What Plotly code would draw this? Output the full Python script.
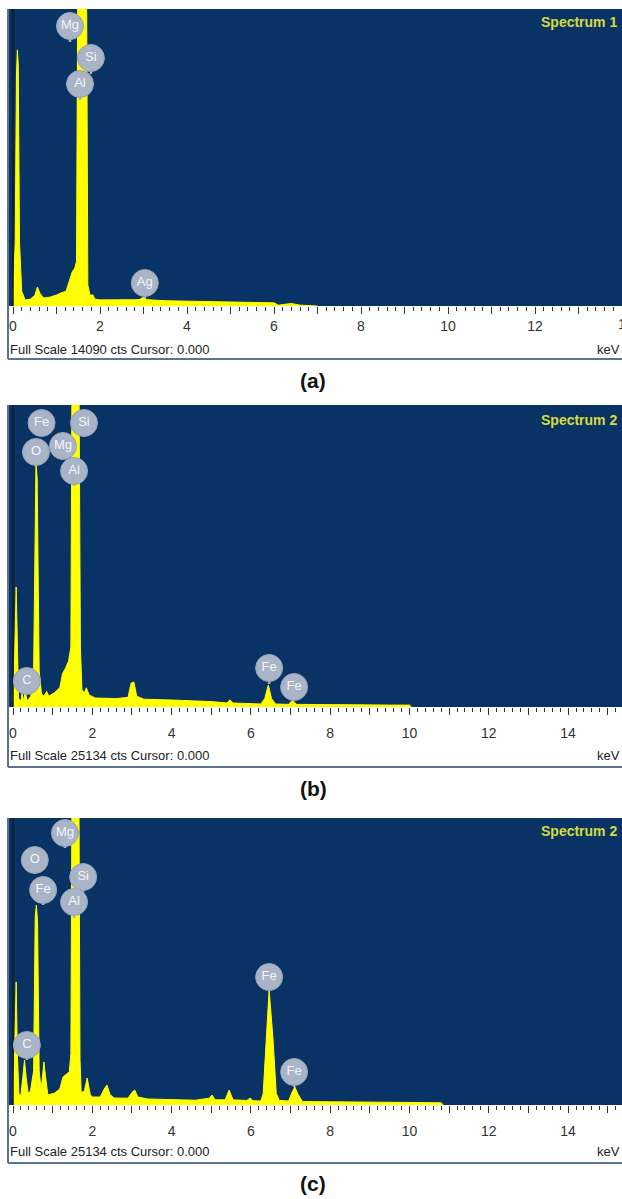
import plotly.graph_objects as go

W, H = 622, 1199
FONT = "Liberation Sans, Arial, sans-serif"
BG = "#0a3365"
YEL = "#ffff00"
BADGE = "#a9b4c6"
FRAME = "#5d7394"
TICK = "#333333"

# ---------------- data (keV, counts) ----------------
a_kev = [0.00, 0.05, 0.08, 0.10, 0.12, 0.15, 0.20, 0.28, 0.40, 0.50, 0.56, 0.62, 0.70, 0.85,
         1.00, 1.10, 1.22, 1.30, 1.36, 1.42, 1.46, 1.49, 1.69, 1.72, 1.77, 1.84, 1.88, 2.00,
         2.50, 2.90, 3.00, 3.08, 3.50, 4.00, 5.00, 6.00, 6.10, 6.40, 6.60, 7.00]
a_cts = [300, 3000, 11000, 12150, 11500, 3000, 700, 280, 330, 500, 900, 600, 380, 420,
         520, 620, 700, 1230, 1610, 1800, 2100, 16000, 16000, 1000, 520, 520, 330, 290,
         280, 300, 420, 300, 250, 220, 190, 150, 40, 120, 40, 0]

b_kev = [0.00, 0.04, 0.08, 0.11, 0.14, 0.20, 0.23, 0.26, 0.31, 0.36, 0.45, 0.52, 0.56, 0.58,
         0.61, 0.66, 0.72, 0.78, 0.85, 0.90, 1.05, 1.18, 1.25, 1.32, 1.40, 1.46, 1.49, 1.66,
         1.70, 1.74, 1.80, 1.85, 1.92, 2.07, 2.60, 2.90, 2.98, 3.05, 3.12, 3.30, 4.00, 5.00,
         5.40, 5.47, 5.55, 6.25, 6.35, 6.44, 6.52, 6.62, 6.95, 7.05, 7.15, 8.00, 9.50, 10.00,
         10.05]
b_cts = [500, 4000, 9990, 4000, 700, 500, 1200, 450, 1250, 500, 900, 3000, 19000, 20400,
         19000, 3000, 1100, 900, 1300, 900, 1200, 1600, 2800, 3200, 3800, 5000, 30000, 30000,
         5000, 1400, 1200, 1600, 1000, 750, 700, 800, 2000, 2080, 900, 650, 580, 450,
         330, 600, 330, 250, 700, 1830, 700, 250, 220, 580, 220, 180, 160, 160,
         0]

c_kev = [0.00, 0.04, 0.08, 0.11, 0.15, 0.20, 0.25, 0.29, 0.33, 0.38, 0.44, 0.52, 0.56, 0.59,
         0.62, 0.66, 0.71, 0.75, 0.78, 0.82, 0.88, 1.05, 1.18, 1.26, 1.35, 1.42, 1.46, 1.49,
         1.66, 1.69, 1.72, 1.80, 1.87, 1.95, 2.00, 2.20, 2.30, 2.37, 2.45, 2.55, 2.90, 3.00,
         3.07, 3.15, 3.40, 4.00, 4.60, 4.95, 5.02, 5.10, 5.35, 5.45, 5.55, 5.90, 5.98, 6.05,
         6.25, 6.31, 6.38, 6.46, 6.56, 6.64, 6.72, 6.95, 7.05, 7.11, 7.18, 7.30, 8.00, 9.00,
         10.00, 10.80, 10.85]
c_cts = [600, 4500, 10770, 4500, 900, 900, 2500, 3940, 2500, 1050, 1200, 3000, 16500, 17500,
         16000, 3000, 1300, 2500, 3770, 2500, 875, 1050, 1400, 2450, 2700, 2900, 4500, 30000,
         30000, 4000, 1100, 1200, 2360, 900, 700, 700, 1400, 1750, 900, 610, 600, 1100,
         1310, 700, 525, 480, 420, 600, 875, 450, 450, 1310, 450, 400, 610, 380,
         350, 1000, 5700, 10070, 5700, 1000, 400, 350, 1200, 1576, 1000, 300, 280, 250,
         230, 200, 0]

full_scale = [14090, 25134, 25134]
spectrum_names = ["Spectrum 1", "Spectrum 2", "Spectrum 2"]
captions = ["(a)", "(b)", "(c)"]

# element labels
a_el = ["Mg", "Si", "Al", "Ag"]
a_el_kev = [1.31, 1.79, 1.54, 3.03]
b_el = ["Fe", "O", "Mg", "Si", "Al", "C", "Fe", "Fe"]
b_el_kev = [0.72, 0.58, 1.26, 1.79, 1.54, 0.35, 6.46, 7.09]
c_el = ["Mg", "O", "Fe", "Si", "Al", "C", "Fe", "Fe"]
c_el_kev = [1.31, 0.55, 0.76, 1.77, 1.54, 0.35, 6.46, 7.09]

tick_vals = list(range(0, 16))
tick_text_a = [str(v) if (v % 2 == 0 and v < 14) else "" for v in tick_vals]
tick_text_bc = [str(v) if v % 2 == 0 else "" for v in tick_vals]

# ---------------- layout geometry ----------------
a_badge_y = [13283, 11765, 10532, 1091]
a_tip_y = [12524, 11006, 9773, 380]
b_badge_y = [23637, 21224, 21723, 23637, 19642, 2164, 3246, 1665]
b_tip_y = [22555, 20058, 20558, 22472, 18394, 999, 1914, 583]
c_badge_y = [23820, 21455, 18828, 19966, 17777, 5254, 11209, 2890]
c_tip_y = [22506, 20229, 17514, 18652, 16376, 3941, 9983, 1576]

panels = [
    dict(kev=a_kev, cts=a_cts, el=a_el, elx=a_el_kev, by=a_badge_y, ty=a_tip_y, tt=tick_text_a,
         top=9, bot=306, strip=359, fsy=349, capy=381, specy=22, xr=[-0.115, 14.0], so=0),
    dict(kev=b_kev, cts=b_cts, el=b_el, elx=b_el_kev, by=b_badge_y, ty=b_tip_y, tt=tick_text_bc,
         top=405, bot=707, strip=767, fsy=755, capy=788, specy=420, xr=[-0.126, 15.36], so=6),
    dict(kev=c_kev, cts=c_cts, el=c_el, elx=c_el_kev, by=c_badge_y, ty=c_tip_y, tt=tick_text_bc,
         top=818, bot=1105, strip=1163, fsy=1151, capy=1183, specy=831, xr=[-0.126, 15.36], so=6),
]


def pp(py):
    return 1 - py / H


fig = go.Figure()
shapes = []
annotations = []
layout_axes = {}
X0 = 8 / W

for i, p in enumerate(panels):
    sfx = "" if i == 0 else str(i + 1)
    xa, ya = "x" + sfx, "y" + sfx
    fs = full_scale[i]

    fig.add_trace(go.Scatter(x=p["kev"], y=p["cts"], xaxis=xa, yaxis=ya, mode="lines",
                             line=dict(color=YEL, width=1), fill="tozeroy", fillcolor=YEL,
                             hoverinfo="skip", showlegend=False))
    # cursor line
    fig.add_trace(go.Scatter(x=[0, 0], y=[0, fs], xaxis=xa, yaxis=ya, mode="lines",
                             line=dict(color="#1a1a1a", width=1.5), hoverinfo="skip",
                             showlegend=False))
    # stems
    sx, sy = [], []
    for xk, b, t in zip(p["elx"], p["by"], p["ty"]):
        sx += [xk, xk, None]
        sy += [b, t, None]
    fig.add_trace(go.Scatter(x=sx, y=sy, xaxis=xa, yaxis=ya, mode="lines",
                             line=dict(color=BADGE, width=2.5), hoverinfo="skip",
                             showlegend=False))
    # badges
    fig.add_trace(go.Scatter(x=p["elx"], y=p["by"], xaxis=xa, yaxis=ya, mode="markers+text",
                             text=p["el"], textposition="middle center",
                             textfont=dict(color="#f4f6fb", size=13, family=FONT),
                             marker=dict(size=27, color=BADGE, line=dict(color="#97a3b8", width=1)),
                             hoverinfo="skip", showlegend=False, cliponaxis=False))

    layout_axes["xaxis" + sfx] = dict(
        domain=[X0, 1], range=p["xr"], anchor=ya, tickmode="array", tickvals=tick_vals,
        ticktext=p["tt"], ticks="outside", ticklen=7, tickwidth=1, tickcolor=TICK,
        tickfont=dict(size=14, color=TICK, family=FONT), showgrid=False, zeroline=False,
        showline=False, ticklabeloverflow="allow", ticklabelstandoff=p["so"], fixedrange=True,
        minor=dict(dtick=0.2, tick0=0, ticks="outside", ticklen=4, tickwidth=1,
                   tickcolor=TICK, showgrid=False))
    layout_axes["yaxis" + sfx] = dict(
        domain=[pp(p["bot"]), pp(p["top"])], range=[0, fs], anchor=xa, visible=False,
        showgrid=False, zeroline=False, fixedrange=True)

    # frame of the panel
    shapes.append(dict(type="line", xref="paper", yref="paper", x0=X0, x1=X0,
                       y0=pp(p["top"]), y1=pp(p["strip"]), line=dict(color=FRAME, width=2)))
    shapes.append(dict(type="line", xref="paper", yref="paper", x0=X0, x1=1.01,
                       y0=pp(p["strip"]), y1=pp(p["strip"]), line=dict(color=FRAME, width=2)))

    annotations.append(dict(text="<b>" + spectrum_names[i] + "</b>", xref="paper", yref="paper",
                            x=619 / W, y=pp(p["specy"]), xanchor="right", yanchor="middle",
                            showarrow=False, font=dict(color="#d4dc3c", size=14, family=FONT)))
    annotations.append(dict(text=f"Full Scale {fs} cts Cursor: 0.000", xref="paper", yref="paper",
                            x=8 / W, y=pp(p["fsy"]), xanchor="left", yanchor="middle",
                            showarrow=False, font=dict(color="#222222", size=13, family=FONT)))
    annotations.append(dict(text="keV", xref="paper", yref="paper", x=622 / W, y=pp(p["fsy"]),
                            xanchor="right", yanchor="middle", showarrow=False,
                            font=dict(color="#222222", size=13, family=FONT)))
    annotations.append(dict(text="<b>" + captions[i] + "</b>", xref="paper", yref="paper",
                            x=313 / W, y=pp(p["capy"]), xanchor="center", yanchor="middle",
                            showarrow=False, font=dict(color="#111111", size=21, family=FONT)))

# truncated "14" label at the right edge of panel (a), as in the reference
annotations.append(dict(text="14", xref="paper", yref="paper", x=626 / W, y=pp(324),
                        xanchor="center", yanchor="middle", showarrow=False,
                        font=dict(color=TICK, size=14, family=FONT)))

fig.update_layout(width=W, height=H, margin=dict(l=0, r=0, t=0, b=0, pad=0),
                  paper_bgcolor="white", plot_bgcolor=BG, showlegend=False,
                  shapes=shapes, annotations=annotations, **layout_axes)

fig.write_html("out.html")
